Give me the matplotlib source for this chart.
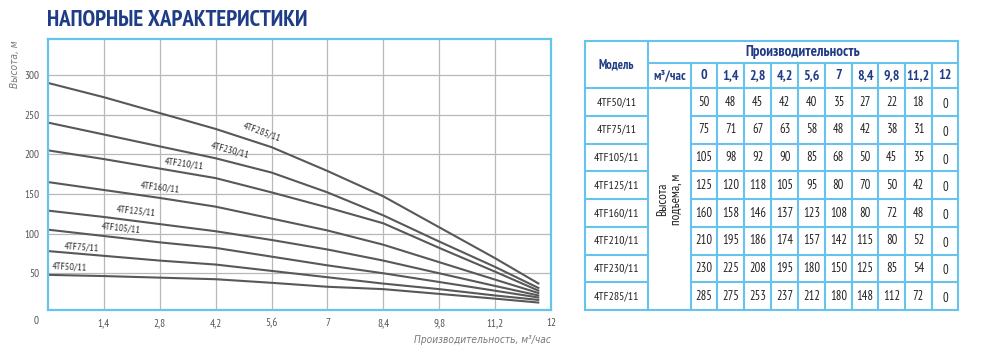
import numpy as np
import matplotlib.pyplot as plt
from matplotlib import font_manager

flow_labels = ['0', '1,4', '2,8', '4,2', '5,6', '7', '8,4', '9,8', '11,2', '12']
models = ['4TF50/11', '4TF75/11', '4TF105/11', '4TF125/11',
          '4TF160/11', '4TF210/11', '4TF230/11', '4TF285/11']

# curve points: heads at the grid columns and at the end of each line
curve_pos = [0, 1, 2, 3, 4, 5, 6, 7, 8, 8.79]
curve_50 = [48, 46.5, 44.5, 42.5, 38, 33, 30, 24, 18, 13]
curve_75 = [78, 72, 66, 61, 53, 45, 37, 30, 22, 16.3]
curve_105 = [105, 97, 89, 82, 71, 60, 50, 39, 28, 19.3]
curve_125 = [129, 121, 112, 103, 92, 80, 66, 50, 34, 21.8]
curve_160 = [165, 155, 145, 134, 119, 104, 86, 64, 42, 24.8]
curve_210 = [205, 194, 182, 170, 152, 133, 113, 82, 52, 27.7]
curve_230 = [240, 225, 210, 195, 177, 152, 123, 90, 58, 31]
curve_285 = [290, 272, 252, 232, 209, 179, 147, 108, 69, 36.5]
curves = [curve_50, curve_75, curve_105, curve_125,
          curve_160, curve_210, curve_230, curve_285]

# table values (head, m) for each model
tab_50 = [50, 48, 45, 42, 40, 35, 27, 22, 18, 0]
tab_75 = [75, 71, 67, 63, 58, 48, 42, 38, 31, 0]
tab_105 = [105, 98, 92, 90, 85, 68, 50, 45, 35, 0]
tab_125 = [125, 120, 118, 105, 95, 80, 70, 50, 42, 0]
tab_160 = [160, 158, 146, 137, 123, 108, 80, 72, 48, 0]
tab_210 = [210, 195, 186, 174, 157, 142, 115, 80, 52, 0]
tab_230 = [230, 225, 208, 195, 180, 150, 125, 85, 54, 0]
tab_285 = [285, 275, 253, 237, 212, 180, 148, 112, 72, 0]
table_rows = [tab_50, tab_75, tab_105, tab_125, tab_160, tab_210, tab_230, tab_285]

# where the curve names sit (x position, head, angle)
label_x = [0.38, 0.61, 1.31, 1.57, 2.0, 2.43, 3.26, 3.83]
label_y = [58, 83, 107, 128.5, 157.5, 188, 205.5, 228]
label_rot = [-3, -4, -6, -6, -7, -8, -15, -20]

names = {f.name for f in font_manager.fontManager.ttflist}
narrow = next((n for n in ['PT Sans Narrow', 'Roboto Condensed', 'Fira Sans Condensed',
                           'Archivo Narrow', 'Liberation Sans Narrow'] if n in names),
              'DejaVu Sans')
plt.rcParams['font.family'] = [narrow, 'DejaVu Sans']
if narrow == 'DejaVu Sans':
    plt.rcParams['font.stretch'] = 'condensed'
# italic captions: the narrow face has no italic, so use a condensed oblique one
ital = dict(family='DejaVu Sans', stretch='condensed', style='italic')

NAVY = '#1f3c86'
BLUE = '#66c3ec'
GRID = '#b8b8b8'
LINE = '#585858'
TXT = '#555555'

W, H = 1000, 353
fig = plt.figure(figsize=(W / 100, H / 100), dpi=100)

# ---- chart ----
ax = fig.add_axes([48 / W, 1 - 310 / H, (551 - 48) / W, (310 - 39) / H])
ax.set_xlim(0, 9)
ax.set_ylim(3.7, 345.4)
ax.set_xticks(range(1, 10))
ax.set_xticklabels(flow_labels[1:])
ax.set_yticks([50, 100, 150, 200, 250, 300])
ax.tick_params(length=0, labelsize=8, colors=TXT, pad=6)
ax.grid(True, color=GRID, lw=0.9)
ax.set_axisbelow(True)
for s in ax.spines.values():
    s.set_color(BLUE)
    s.set_linewidth(1.6)

for c in curves:
    ax.plot(curve_pos, c, color=LINE, lw=1.5, solid_capstyle='butt')
for m, lx, ly, r in zip(models, label_x, label_y, label_rot):
    ax.text(lx, ly, m, fontsize=7.5, color='#333333', rotation=r,
            ha='center', va='center', rotation_mode='anchor')

fig.text(36 / W, 1 - 321 / H, flow_labels[0], fontsize=8, color=TXT,
         ha='center', va='center')
fig.text(551 / W, 1 - 340 / H, 'Производительность, м³/час', fontsize=7.3,
         color='#777777', ha='right', va='center', **ital)
fig.text(15 / W, 1 - 40 / H, 'Высота, м', fontsize=7.3, color='#777777',
         rotation=90, ha='center', va='top', **ital)
fig.text(47 / W, 1 - 20 / H, 'НАПОРНЫЕ ХАРАКТЕРИСТИКИ', fontsize=16.5,
         fontweight='bold', color=NAVY, ha='left', va='center')

# ---- table ----
tx = fig.add_axes([0, 0, 1, 1])
tx.set_xlim(0, W)
tx.set_ylim(H, 0)
tx.axis('off')

col_x = [585, 648, 690.5, 717.3, 744.3, 771.3, 798.3, 825, 851.7, 878.3, 905, 931.7, 958.3]
row_y = [40.7, 63.3, 88.3, 116, 143.7, 171.3, 199.3, 227, 254.7, 282.3, 310]
lkw = dict(color=BLUE, lw=1.5, solid_capstyle='projecting')

# outer frame and header lines
tx.plot([col_x[0], col_x[-1]], [row_y[0], row_y[0]], **lkw)
tx.plot([col_x[0], col_x[-1]], [row_y[-1], row_y[-1]], **lkw)
tx.plot([col_x[1], col_x[-1]], [row_y[1], row_y[1]], **lkw)
tx.plot([col_x[0], col_x[-1]], [row_y[2], row_y[2]], **lkw)
# body row lines skip the merged "height" column
for y in row_y[3:-1]:
    tx.plot([col_x[0], col_x[1]], [y, y], **lkw)
    tx.plot([col_x[2], col_x[-1]], [y, y], **lkw)
for i, x in enumerate(col_x):
    y0 = row_y[1] if 2 <= i < len(col_x) - 1 else row_y[0]
    tx.plot([x, x], [y0, row_y[-1]], **lkw)

tx.text((col_x[0] + col_x[1]) / 2, (row_y[0] + row_y[2]) / 2, 'Модель',
        fontsize=9, fontweight='bold', color=NAVY, ha='center', va='center')
tx.text((col_x[1] + col_x[-1]) / 2, (row_y[0] + row_y[1]) / 2, 'Производительность',
        fontsize=10.8, fontweight='bold', color=NAVY, ha='center', va='center')
tx.text((col_x[1] + col_x[2]) / 2, (row_y[1] + row_y[2]) / 2, 'м³/час',
        fontsize=9.5, fontweight='bold', color=NAVY, ha='center', va='center')
for j, lab in enumerate(flow_labels):
    tx.text((col_x[j + 2] + col_x[j + 3]) / 2, (row_y[1] + row_y[2]) / 2, lab,
            fontsize=10, fontweight='bold', color=NAVY, ha='center', va='center')

tx.text((col_x[1] + col_x[2]) / 2, (row_y[2] + row_y[-1]) / 2, 'Высота\nподъема, м',
        fontsize=9.5, color='#222222', rotation=90, ha='center', va='center',
        linespacing=1.0, multialignment='center')

for i, (m, vals) in enumerate(zip(models, table_rows)):
    yc = (row_y[i + 2] + row_y[i + 3]) / 2
    tx.text((col_x[0] + col_x[1]) / 2, yc, m, fontsize=8.5, color='#222222',
            ha='center', va='center')
    for j, v in enumerate(vals):
        dy = 2.5 if j == len(vals) - 1 else 0
        tx.text((col_x[j + 2] + col_x[j + 3]) / 2, yc + dy, str(v), fontsize=9,
                color='#222222', ha='center', va='center')

fig.savefig('out.png', dpi=100)
